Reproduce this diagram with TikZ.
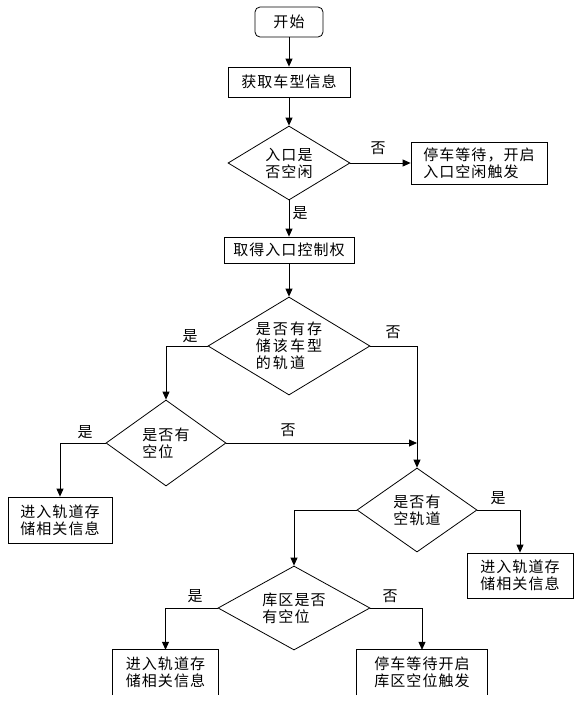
\documentclass[tikz,border=0pt]{standalone}
\usepackage{fontspec}
\setmainfont[LetterSpace=7]{Noto Sans CJK SC}
\newfontfamily\cjkwide[LetterSpace=14]{Noto Sans CJK SC}
\usetikzlibrary{shapes.geometric,arrows.meta}
\tikzset{
  base/.style={font=\fontsize{15}{17}\selectfont, inner sep=0pt, align=left},
  proc/.style={base, draw, rectangle, line width=0.8pt},
  dec/.style={base, draw, diamond, line width=0.8pt},
  lab/.style={font=\fontsize{15}{17}\selectfont, inner sep=0pt},
  conn/.style={-{Triangle[width=7pt,length=8pt]}, line width=0.8pt},
  plain/.style={line width=0.8pt},
}
\begin{document}
\begin{tikzpicture}[x=1pt,y=-1pt]
\useasboundingbox (0,0) rectangle (575,713);
% nodes
\node[proc, rounded corners=5pt, minimum width=68pt, minimum height=30pt] (start) at (289,22) {开始};
\node[proc, minimum width=122pt, minimum height=30pt] (b1) at (289,82) {获取车型信息};
\node[dec, minimum width=122pt, minimum height=74pt, aspect=1.65] (d1) at (289,163) {入口是\\否空闲};
\node[proc, minimum width=136pt, minimum height=42pt] (bno) at (479,163) {停车等待，开启\\入口空闲触发};
\node[proc, minimum width=130pt, minimum height=26pt] (b2) at (289,250) {取得入口控制权};
\node[dec, minimum width=162pt, minimum height=98pt, aspect=1.65, font=\cjkwide\fontsize{15}{17}\selectfont] (d2) at (289,346) {是否有存\\储该车型\\的轨道};
\node[dec, minimum width=120pt, minimum height=86pt, aspect=1.4] (d3) at (166,443) {是否有\\空位};
\coordinate (j) at (417,443);
\node[dec, minimum width=120pt, minimum height=84pt, aspect=1.43] (d4) at (417,510) {是否有\\空轨道};
\node[proc, minimum width=104pt, minimum height=46pt] (bL) at (60,520) {进入轨道存\\储相关信息};
\node[proc, minimum width=106pt, minimum height=45pt] (bR) at (520,575.5) {进入轨道存\\储相关信息};
\node[dec, minimum width=152pt, minimum height=84pt, aspect=1.8] (d5) at (294,608) {库区是否\\有空位};
\node[base, minimum width=105pt, minimum height=45pt] (bLL) at (165.5,672.5) {进入轨道存\\储相关信息};
\node[base, minimum width=130pt, minimum height=45pt] (bLR) at (422,672.5) {停车等待开启\\库区空位触发};
\draw[plain] (bLL.south west) -- (bLL.north west) -- (bLL.north east) -- (bLL.south east);
\draw[plain] (bLR.south west) -- (bLR.north west) -- (bLR.north east) -- (bLR.south east);
% connectors
\draw[conn] (start) -- (b1);
\draw[conn] (b1) -- (d1);
\draw[conn] (d1.east) -- (bno.west);
\draw[conn] (d1.south) -- (b2.north);
\draw[conn] (b2) -- (d2);
\draw[conn] (d2.west) -| (d3.north);
\draw[conn] (d2.east) -| (d4.north);
\draw[conn] (d3.east) -- (j);
\draw[conn] (d3.west) -| (bL.north);
\draw[conn] (d4.east) -| (bR.north);
\draw[conn] (d4.west) -| (d5.north);
\draw[conn] (d5.west) -| (bLL.north);
\draw[conn] (d5.east) -| (bLR.north);
% labels
\node[lab] (l1) at (378,148) {否};
\node[lab] (l2) at (300,213) {是};
\node[lab] (l3) at (190,336) {是};
\node[lab] (l4) at (393,332) {否};
\node[lab] (l5) at (85,432) {是};
\node[lab] (l6) at (288,430) {否};
\node[lab] (l7) at (498,498) {是};
\node[lab] (l8) at (195,596) {是};
\node[lab] (l9) at (390,596) {否};
\end{tikzpicture}
\end{document}
